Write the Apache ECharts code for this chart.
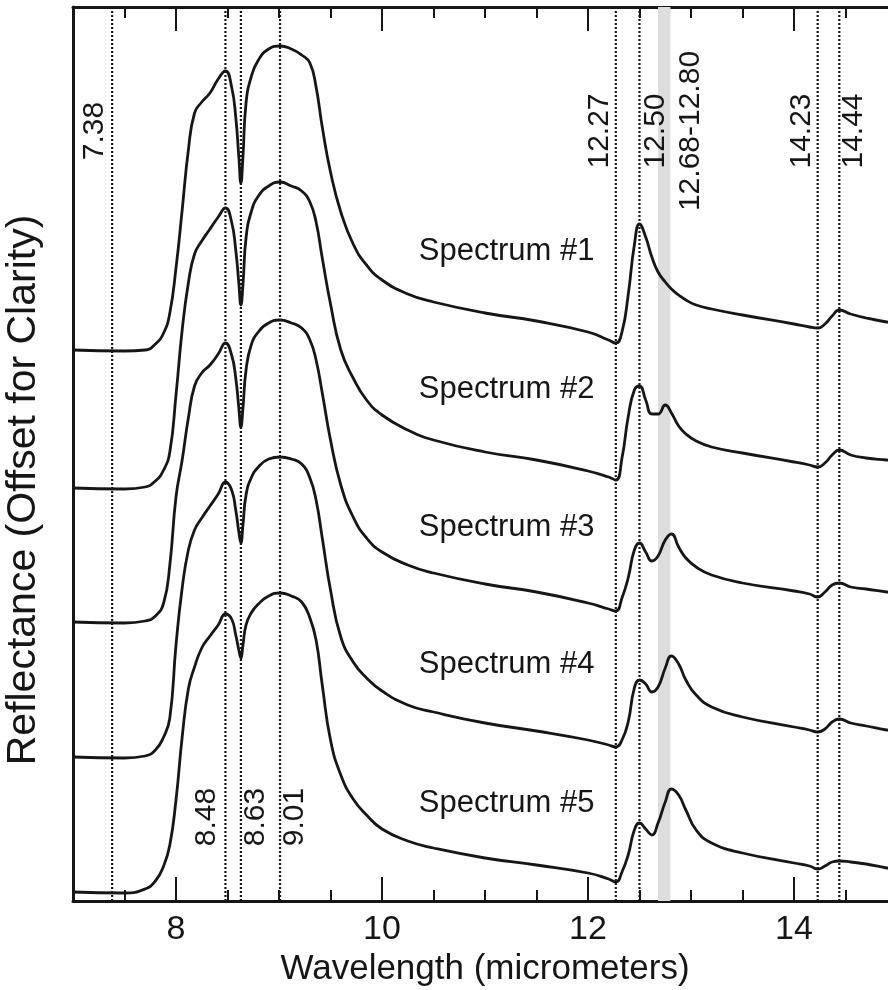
<!DOCTYPE html>
<html>
<head>
<meta charset="utf-8">
<title>Reflectance spectra</title>
<script src="https://cdn.jsdelivr.net/npm/echarts@6/dist/echarts.min.js"></script>
<style>
  html, body { margin: 0; padding: 0; background: #fff; }
  #chart { width: 888px; height: 990px; }
</style>
</head>
<body>
<div id="chart"></div>
<script>
// Wavelength sampling (micrometers), shared by all five spectra
const wavelength = [7.0, 7.5, 7.7, 7.8, 7.88, 7.94, 8.0, 8.06, 8.12, 8.18, 8.25, 8.33, 8.41, 8.48, 8.54, 8.58, 8.61, 8.63, 8.65, 8.68, 8.73, 8.8, 8.9, 9.01, 9.12, 9.22, 9.3, 9.36, 9.42, 9.5, 9.6, 9.72, 9.85, 10.0, 10.25, 10.5, 11.0, 11.5, 12.0, 12.2, 12.27, 12.33, 12.39, 12.45, 12.5, 12.56, 12.62, 12.68, 12.75, 12.81, 12.88, 12.95, 13.05, 13.2, 13.5, 14.0, 14.15, 14.23, 14.3, 14.37, 14.44, 14.55, 14.7, 14.9, 15.0];

// Reflectance (arbitrary units, already offset for clarity)
const spectrum1 = [551, 550, 551, 557, 568, 588, 633, 691, 751, 788, 799, 808, 822, 830, 814, 784, 744, 718, 744, 798, 824, 841, 852, 855, 852, 846, 838, 814, 774, 729, 689, 657, 636, 621, 607, 599, 588, 580, 569, 561, 558, 569, 606, 656, 677, 664, 644, 629, 619, 612, 606, 601, 596, 592, 586, 577, 574, 573, 577, 585, 591, 587, 583, 579, 578];
const spectrum2 = [413, 412, 414, 420, 431, 449, 506, 571, 618, 647, 660, 672, 684, 693, 679, 651, 618, 596, 616, 663, 689, 705, 715, 719, 715, 710, 699, 679, 643, 597, 551, 523, 501, 486, 471, 461, 449, 441, 430, 424, 421, 443, 484, 511, 515, 501, 487, 487, 496, 488, 475, 467, 460, 454, 448, 439, 436, 434, 438, 446, 451, 446, 443, 441, 440];
const spectrum3 = [279, 278, 280, 285, 298, 336, 404, 441, 483, 515, 528, 536, 547, 558, 546, 523, 493, 474, 493, 531, 556, 569, 578, 581, 578, 573, 561, 541, 508, 461, 416, 384, 363, 349, 336, 328, 317, 309, 298, 292, 290, 303, 323, 351, 358, 349, 340, 345, 361, 367, 354, 343, 334, 326, 318, 310, 307, 304, 309, 316, 318, 314, 312, 309, 308];
const spectrum4 = [144, 143, 145, 151, 164, 183, 256, 313, 351, 371, 383, 395, 407, 419, 411, 391, 369, 358, 376, 406, 423, 434, 442, 444, 442, 437, 423, 401, 363, 311, 264, 239, 223, 210, 196, 189, 178, 170, 161, 156, 154, 161, 179, 213, 221, 217, 209, 214, 233, 245, 237, 221, 206, 194, 184, 174, 171, 169, 172, 179, 182, 178, 175, 171, 170];
const spectrum5 = [9, 8, 12, 20, 35, 56, 101, 164, 212, 234, 253, 265, 276, 287, 282, 266, 251, 243, 256, 276, 288, 297, 305, 308, 305, 299, 283, 261, 216, 161, 126, 102, 86, 72, 60, 53, 43, 36, 28, 22, 19, 29, 46, 71, 78, 72, 66, 78, 99, 112, 106, 91, 71, 58, 48, 38, 35, 32, 35, 39, 40, 39, 37, 33, 32];

const spectrumNames = ['Spectrum #1', 'Spectrum #2', 'Spectrum #3', 'Spectrum #4', 'Spectrum #5'];

// Diagnostic band positions (micrometers)
const featureLines = [7.38, 8.48, 8.63, 9.01, 12.27, 12.50, 14.23, 14.44];
const featureLabels = ['7.38', '8.48', '8.63', '9.01', '12.27', '12.50', '14.23', '14.44'];
const featureBand = [12.68, 12.80];
const featureBandLabel = '12.68-12.80';

// Axis
const xRange = [7, 15];
const yRange = [0, 894];
const majorTicks = [8, 10, 12, 14];
const minorStep = 0.5;

// ---- layout / style (not data) ----
const FONT = '"Liberation Sans", Arial, Helvetica, sans-serif';
const INK = '#161616';
const TOP_LABEL_Y = 770;      // anchor height of the upper band labels
const BOTTOM_LABEL_Y = 84;    // anchor height of the lower band labels
// horizontal shift of each label from its line (pixels) and whether it sits near the top
const labelPlacement = {
  '7.38':  { dx: -17, top: true },
  '8.48':  { dx: -19, top: false },
  '8.63':  { dx: 15,  top: false },
  '9.01':  { dx: 15,  top: false },
  '12.27': { dx: -16, top: true },
  '12.50': { dx: 16,  top: true },
  '14.23': { dx: -16, top: true },
  '14.44': { dx: 14,  top: true }
};
const spectrumLabelX = 11.21;
const spectrumLabelY = [650, 512, 374, 237, 98];

const spectra = [spectrum1, spectrum2, spectrum3, spectrum4, spectrum5];

const series = [];

// grey band
series.push({
  type: 'line',
  data: [],
  silent: true,
  z: 1,
  markArea: {
    silent: true,
    itemStyle: { color: '#dddddd' },
    data: [[{ xAxis: featureBand[0] }, { xAxis: featureBand[1] }]]
  }
});

// dotted feature lines
featureLines.forEach(function (w) {
  series.push({
    type: 'line',
    data: [[w, yRange[0]], [w, yRange[1]]],
    symbol: 'none',
    silent: true,
    z: 2,
    lineStyle: { color: INK, width: 2.2, type: [2, 2] }
  });
});

// spectra
spectra.forEach(function (vals, k) {
  series.push({
    name: spectrumNames[k],
    type: 'line',
    data: wavelength.map(function (w, i) { return [w, vals[i]]; }),
    symbol: 'none',
    smooth: 0.5,
    z: 3,
    lineStyle: { color: INK, width: 2.8 }
  });
});

// band labels (rotated 90deg, so the screen-horizontal shift is the local y offset)
const featureLabelData = featureLines.map(function (w, i) {
  const p = labelPlacement[featureLabels[i]];
  return {
    value: [w, p.top ? TOP_LABEL_Y : BOTTOM_LABEL_Y],
    name: featureLabels[i],
    label: { offset: [0, p.dx] }
  };
});
featureLabelData.push({
  value: [featureBand[1], TOP_LABEL_Y],
  name: featureBandLabel,
  label: { offset: [0, 20] }
});
series.push({
  type: 'scatter',
  symbolSize: 0,
  silent: true,
  z: 4,
  itemStyle: { opacity: 1 },
  data: featureLabelData,
  label: {
    show: true,
    position: 'inside',
    rotate: 90,
    formatter: function (p) { return p.name; },
    fontFamily: FONT,
    fontSize: 30,
    color: INK,
    opacity: 1
  }
});

// spectrum names
series.push({
  type: 'scatter',
  symbolSize: 0,
  silent: true,
  z: 4,
  itemStyle: { opacity: 1 },
  data: spectrumNames.map(function (n, k) {
    return { value: [spectrumLabelX, spectrumLabelY[k]], name: n };
  }),
  label: {
    show: true,
    position: 'inside',
    formatter: function (p) { return p.name; },
    fontFamily: FONT,
    fontSize: 31,
    color: INK,
    opacity: 1
  }
});

const commonX = { type: 'value', min: xRange[0], max: xRange[1], splitLine: { show: false } };

const option = {
  animation: false,
  backgroundColor: '#ffffff',
  grid: { left: 73, right: -9, top: 7, bottom: 89, outerBoundsMode: 'none' },
  xAxis: [
    Object.assign({}, commonX, {
      position: 'bottom',
      name: 'Wavelength (micrometers)',
      nameLocation: 'middle',
      nameGap: 48,
      nameTextStyle: { fontFamily: FONT, fontSize: 35, color: INK },
      axisLine: { show: true, lineStyle: { color: INK, width: 3 } },
      axisTick: { show: true, inside: true, length: 24, customValues: majorTicks, lineStyle: { color: INK, width: 2 } },
      axisLabel: { show: true, customValues: majorTicks, margin: 12, fontFamily: FONT, fontSize: 34, color: INK }
    }),
    Object.assign({}, commonX, {
      position: 'bottom',
      interval: minorStep,
      axisLine: { show: false },
      axisTick: { show: true, inside: true, length: 11, lineStyle: { color: INK, width: 2 } },
      axisLabel: { show: false }
    }),
    Object.assign({}, commonX, {
      position: 'top',
      axisLine: { show: true, lineStyle: { color: INK, width: 3 } },
      axisTick: { show: true, inside: true, length: 24, customValues: majorTicks, lineStyle: { color: INK, width: 2 } },
      axisLabel: { show: false }
    }),
    Object.assign({}, commonX, {
      position: 'top',
      interval: minorStep,
      axisLine: { show: false },
      axisTick: { show: true, inside: true, length: 11, lineStyle: { color: INK, width: 2 } },
      axisLabel: { show: false }
    })
  ],
  yAxis: {
    type: 'value',
    min: yRange[0],
    max: yRange[1],
    axisLine: { show: true, lineStyle: { color: INK, width: 3 } },
    axisTick: { show: false },
    axisLabel: { show: false },
    splitLine: { show: false }
  },
  graphic: [{
    type: 'text',
    x: 24,
    y: 490,
    rotation: Math.PI / 2,
    style: {
      text: 'Reflectance (Offset for Clarity)',
      fontFamily: FONT,
      fontSize: 41,
      fill: INK,
      textAlign: 'center',
      textVerticalAlign: 'middle',
      align: 'center',
      verticalAlign: 'middle'
    }
  }],
  series: series
};

const chart = echarts.init(document.getElementById('chart'), null, { renderer: 'canvas' });
chart.setOption(option);
</script>
</body>
</html>
